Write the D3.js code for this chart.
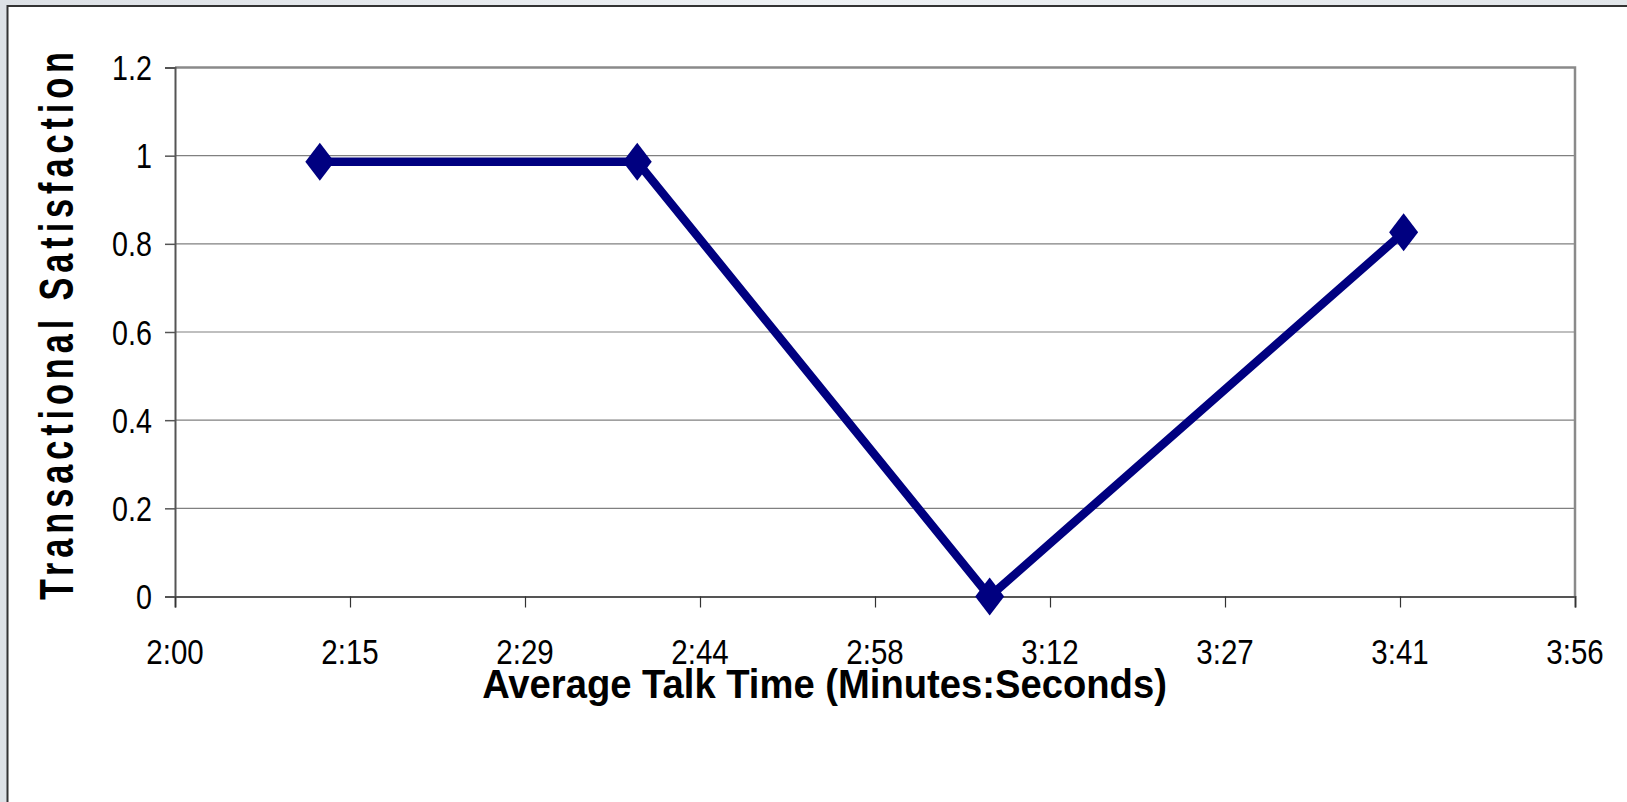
<!DOCTYPE html>
<html>
<head>
<meta charset="utf-8">
<script src="https://cdn.jsdelivr.net/npm/d3@7"></script>
<style>
  html, body { margin: 0; padding: 0; background: #e6e9ed; }
  svg { display: block; }
  text { font-family: "Liberation Sans", Arial, sans-serif; fill: #000; }
</style>
</head>
<body>
<svg id="chart" width="1627" height="802"></svg>
<script>
// Average talk time (seconds) against transactional satisfaction
const talkSeconds = [132, 158.3, 187.5, 221.8];
const satisfaction = [0.986, 0.986, 0, 0.826];

// Axis ticks: time axis steps of 14.5 s starting at 2:00
const xTickLabels = ["2:00", "2:15", "2:29", "2:44", "2:58", "3:12", "3:27", "3:41", "3:56"];
const yTickValues = [0, 0.2, 0.4, 0.6, 0.8, 1, 1.2];
const yTickLabels = ["0", "0.2", "0.4", "0.6", "0.8", "1", "1.2"];

const xTitle = "Average Talk Time (Minutes:Seconds)";
const yTitle = "Transactional Satisfaction";

const W = 1627, H = 802;
const plot = { left: 175, right: 1575, top: 67.5, bottom: 596.5 };

const svg = d3.select("#chart");

// slide backdrop and framed chart area
const bg = svg.append("defs").append("linearGradient")
  .attr("id", "bgGrad").attr("x1", 0).attr("x2", 1).attr("y1", 0).attr("y2", 0);
bg.append("stop").attr("offset", "0").attr("stop-color", "#dde1e6");
bg.append("stop").attr("offset", "0.5").attr("stop-color", "#eef1f4");
bg.append("stop").attr("offset", "1").attr("stop-color", "#e2e6ea");
svg.append("rect").attr("width", W).attr("height", H).attr("fill", "url(#bgGrad)");
svg.append("rect")
  .attr("x", 7.5).attr("y", 6).attr("width", W + 10).attr("height", H + 10)
  .attr("fill", "#fff").attr("stroke", "#333").attr("stroke-width", 2);

const xStart = 120, xStep = 14.5;
const xTickValues = xTickLabels.map((d, i) => xStart + i * xStep);

const x = d3.scaleLinear()
  .domain([xTickValues[0], xTickValues[xTickValues.length - 1]])
  .range([plot.left, plot.right]);
const y = d3.scaleLinear().domain([0, 1.2]).range([plot.bottom, plot.top]);

// horizontal gridlines
svg.append("g")
  .selectAll("line")
  .data(yTickValues.filter(v => v > 0 && v < 1.2))
  .join("line")
  .attr("x1", plot.left).attr("x2", plot.right)
  .attr("y1", d => y(d)).attr("y2", d => y(d))
  .attr("stroke", "#808080").attr("stroke-width", 1.2);

// top and right frame of the plot
svg.append("path")
  .attr("d", `M${plot.left},${y(1.2)}H${plot.right}V${plot.bottom}`)
  .attr("fill", "none").attr("stroke", "#8a8a8a").attr("stroke-width", 2.5);

// y axis
const yAxis = svg.append("g")
  .attr("transform", `translate(${plot.left},0)`)
  .call(d3.axisLeft(y).tickValues(yTickValues).tickSize(10).tickFormat(""));
yAxis.select(".domain").attr("stroke", "#555").attr("stroke-width", 2);
yAxis.selectAll(".tick line").attr("stroke", "#555").attr("stroke-width", 1.5);

// x axis
const xAxis = svg.append("g")
  .attr("transform", `translate(0,${plot.bottom})`)
  .call(d3.axisBottom(x).tickValues(xTickValues).tickSize(11).tickFormat(""));
xAxis.select(".domain").attr("stroke", "#555").attr("stroke-width", 2);
xAxis.selectAll(".tick line").attr("stroke", "#333").attr("stroke-width", 1.2);

// tick labels (condensed)
svg.append("g").selectAll("text")
  .data(yTickValues)
  .join("text")
  .attr("transform", d => `translate(152,${y(d) + 12.5}) scale(0.82,1)`)
  .attr("text-anchor", "end")
  .attr("font-size", 35)
  .text((d, i) => yTickLabels[i]);

svg.append("g").selectAll("text")
  .data(xTickValues)
  .join("text")
  .attr("transform", d => `translate(${x(d)},663.5) scale(0.82,1)`)
  .attr("text-anchor", "middle")
  .attr("font-size", 36)
  .text((d, i) => xTickLabels[i]);

// axis titles
const xt = svg.append("text")
  .attr("text-anchor", "middle")
  .attr("font-size", 41)
  .attr("font-weight", "bold")
  .text(xTitle);
const xtLen = xt.node().getComputedTextLength();
xt.attr("transform", `translate(824.5,698) scale(${685 / xtLen},1)`);

const yt = svg.append("text")
  .attr("text-anchor", "middle")
  .attr("font-size", 49)
  .attr("font-weight", "bold")
  .attr("letter-spacing", 7)
  .text(yTitle);
const ytLen = yt.node().getComputedTextLength();
yt.attr("transform", `translate(73,323.5) rotate(-90) scale(${553 / ytLen},1)`);

// data series
const pts = talkSeconds.map((t, i) => [t, satisfaction[i]]);
svg.append("path")
  .datum(pts)
  .attr("d", d3.line().x(d => x(d[0])).y(d => y(d[1])))
  .attr("fill", "none")
  .attr("stroke", "#000080")
  .attr("stroke-width", 8.5)
  .attr("stroke-linejoin", "round");

const diamond = "M0,-19L14.5,0L0,19L-14.5,0Z";
svg.append("g").selectAll("path")
  .data(pts)
  .join("path")
  .attr("transform", d => `translate(${x(d[0])},${y(d[1])})`)
  .attr("d", diamond)
  .attr("fill", "#000080");
</script>
</body>
</html>
